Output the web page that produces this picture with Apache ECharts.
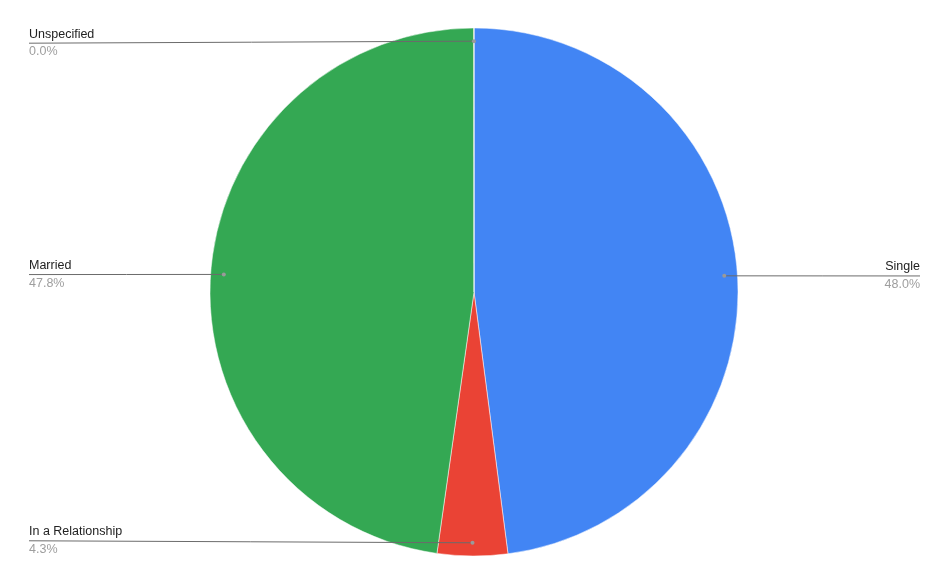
<!DOCTYPE html>
<html>
<head>
<meta charset="utf-8">
<script src="https://cdn.jsdelivr.net/npm/echarts@6/dist/echarts.min.js"></script>
<style>
html,body{margin:0;padding:0;background:#fff;}
#chart{width:949px;height:586px;}
</style>
</head>
<body>
<div id="chart"></div>
<script>
const categories = ['Single', 'In a Relationship', 'Married', 'Unspecified'];
const values = [48.0, 4.3, 47.8, 0.01];
const colors = ['#4285F4', '#EA4335', '#34A853', '#FBBC04'];

const CX = 474, CY = 292, R = 264;
const LEFT_X = 29, RIGHT_X = 920;
const FONT = 'Liberation Sans, Arial, sans-serif';

const pieData = categories.map((c, i) => ({ name: c, value: values[i], itemStyle: { color: colors[i] } }));
const ghostData = categories.map((c, i) => ({ name: c, value: values[i] }));

function anchor(params) {
  const pts = params.labelLinePoints;
  const ex = pts[0][0], ey = pts[0][1];
  return [CX + (ex - CX) * 0.95, CY + (ey - CY) * 0.95];
}

const base = {
  type: 'pie',
  center: [CX, CY],
  radius: [0, R],
  startAngle: 90,
  clockwise: true,
  avoidLabelOverlap: false,
  silent: true,
  emphasis: { disabled: true }
};

const chart = echarts.init(document.getElementById('chart'), null, { renderer: 'canvas' });
chart.setOption({
  animation: false,
  series: [
    Object.assign({}, base, {
      data: pieData,
      itemStyle: { borderColor: '#ffffff', borderWidth: 0.5 },
      label: { show: false },
      labelLine: { show: false }
    }),
    Object.assign({}, base, {
      z: 5,
      data: ghostData,
      itemStyle: { color: 'rgba(0,0,0,0)', borderWidth: 0 },
      label: {
        show: true,
        position: 'outside',
        formatter: p => '{n|' + p.name + '}\n{p|' + p.value.toFixed(1) + '%}',
        rich: {
          n: { fontFamily: FONT, fontSize: 12.5, color: '#222222', lineHeight: 17 },
          p: { fontFamily: FONT, fontSize: 12.5, color: '#9e9e9e', lineHeight: 18 }
        }
      },
      labelLine: { show: true, length: 10, length2: 10, smooth: false, lineStyle: { color: '#6b6b6b', width: 1 } },
      labelLayout: function (params) {
        if (!params.labelLinePoints) return {};
        const [sx, sy] = anchor(params);
        const isLeft = sx < CX;
        const tx = isLeft ? LEFT_X : RIGHT_X;
        const ty = sy + (CY - sy) / (0.95 * R) * 2;
        return {
          x: tx,
          y: ty,
          align: isLeft ? 'left' : 'right',
          verticalAlign: 'middle',
          labelLinePoints: [[sx, sy], [(sx + tx) / 2, (sy + ty) / 2], [tx, ty]]
        };
      }
    }),
    Object.assign({}, base, {
      z: 6,
      data: ghostData,
      itemStyle: { color: 'rgba(0,0,0,0)', borderWidth: 0 },
      label: {
        show: true,
        position: 'outside',
        formatter: '{d|}',
        rich: { d: { width: 4, height: 4, borderRadius: 2, backgroundColor: '#9a9a9a' } }
      },
      labelLine: { show: true, length: 5, length2: 5, lineStyle: { width: 0, opacity: 0 } },
      labelLayout: function (params) {
        if (!params.labelLinePoints) return {};
        const [sx, sy] = anchor(params);
        return { x: sx, y: sy, align: 'center', verticalAlign: 'middle' };
      }
    })
  ]
});
</script>
</body>
</html>
